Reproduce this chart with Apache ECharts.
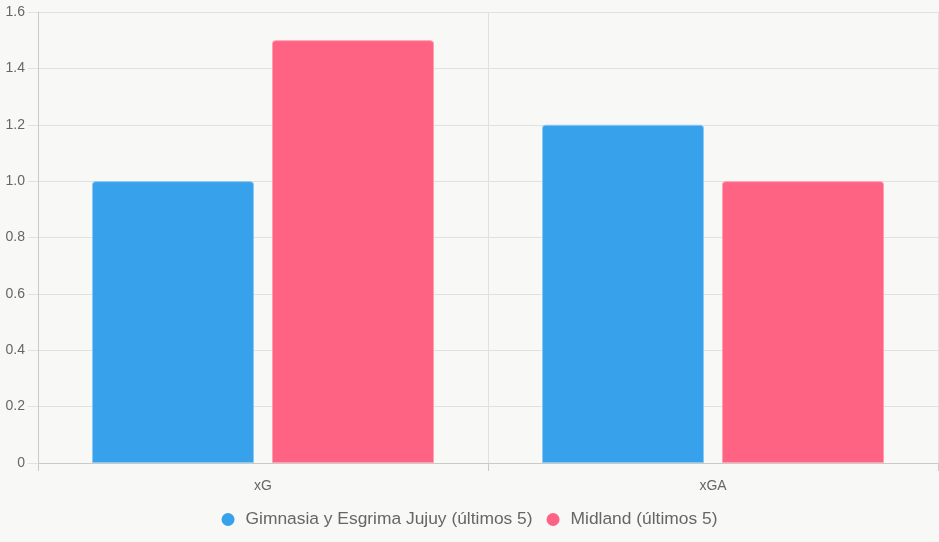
<!DOCTYPE html>
<html>
<head>
<meta charset="utf-8">
<script src="https://cdn.jsdelivr.net/npm/echarts@6/dist/echarts.min.js"></script>
<style>
  html, body { margin: 0; padding: 0; background: #f8f8f6; }
  #chart { width: 939px; height: 542px; }
</style>
</head>
<body>
<div id="chart"></div>
<script>
// datos
var categories = ['xG', 'xGA'];
var gimnasia = [1.0, 1.2];
var midland = [1.5, 1.0];
var seriesNames = ['Gimnasia y Esgrima Jujuy (últimos 5)', 'Midland (últimos 5)'];

var gridColor = '#e1e1df';
var axisColor = '#cacac8';
var textColor = '#666';

var chart = echarts.init(document.getElementById('chart'));

function barSeries(name, data, color, border) {
    return {
        name: name,
        type: 'bar',
        data: data,
        barWidth: 162,
        barGap: '11.1%',
        itemStyle: {
            color: color,
            borderColor: border,
            borderWidth: 1,
            borderRadius: [3, 3, 0, 0]
        }
    };
}

chart.setOption({
    backgroundColor: '#f8f8f6',
    animation: false,
    textStyle: { fontFamily: 'Liberation Sans, Arial, sans-serif' },
    grid: { left: 38, right: 1, top: 12, bottom: 79, containLabel: false },
    legend: {
        bottom: 9,
        left: 'center',
        icon: 'circle',
        itemWidth: 13,
        itemHeight: 13,
        itemGap: 14,
        itemStyle: { borderWidth: 0 },
        textStyle: { color: textColor, fontSize: 17.4, padding: [0, 0, 0, 6] },
        data: seriesNames
    },
    xAxis: {
        type: 'category',
        data: categories,
        axisLine: { lineStyle: { color: axisColor } },
        axisTick: { show: true, length: 8, lineStyle: { color: axisColor } },
        splitLine: { show: true, lineStyle: { color: gridColor } },
        axisLabel: { color: textColor, fontSize: 14, margin: 16 }
    },
    yAxis: {
        type: 'value',
        min: 0,
        max: 1.6,
        interval: 0.2,
        axisLine: { show: true, lineStyle: { color: axisColor } },
        axisTick: { show: true, length: 10, lineStyle: { color: gridColor } },
        splitLine: { show: true, lineStyle: { color: gridColor } },
        axisLabel: {
            color: textColor,
            fontSize: 14,
            margin: 13,
            formatter: function (v) { return v === 0 ? '0' : v.toFixed(1); }
        }
    },
    series: [
        barSeries(seriesNames[0], gimnasia, '#37a2eb', '#8cc8f2'),
        barSeries(seriesNames[1], midland, '#ff6384', '#ffa0b3')
    ]
});
</script>
</body>
</html>
